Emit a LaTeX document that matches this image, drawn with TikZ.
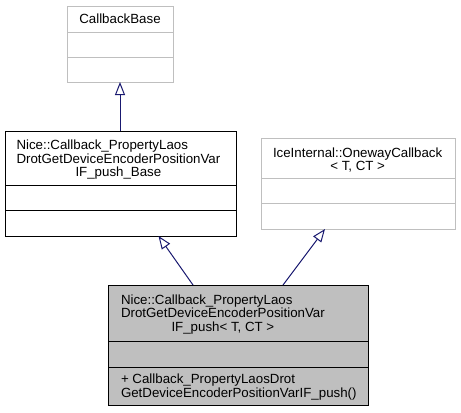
\documentclass[tikz,border=0pt]{standalone}
\usepackage{fontspec}
\setmainfont{Liberation Sans}
\usetikzlibrary{arrows.meta}
\definecolor{edgeblue}{HTML}{191970}
\definecolor{graybd}{HTML}{BFBFBF}
\definecolor{grayfill}{HTML}{BFBFBF}
\newcommand\dgfont{\fontsize{13.3bp}{13.3bp}\selectfont}
\begin{document}
\begin{tikzpicture}[x=1bp,y=1bp,
  comp/.style={draw, inner sep=0pt, outer sep=0pt, anchor=north west, line width=1bp},
  lightcomp/.style={comp, draw=graybd, fill=white},
  darkcomp/.style={comp, draw=black, fill=white},
  maincomp/.style={comp, draw=black, fill=grayfill},
  txt/.style={inner sep=0pt, outer sep=0pt, font=\dgfont},
  inh/.style={draw=edgeblue, line width=1bp, -{Triangle[open, length=13bp, width=10bp]}}]
\useasboundingbox[fill=white] (0,0) rectangle (461,-412);
% CallbackBase
\node[lightcomp, minimum width=106bp, minimum height=26bp] (cbT) at (67,-6) {};
\node[lightcomp, minimum width=106bp, minimum height=25bp] (cbA) at (67,-32) {};
\node[lightcomp, minimum width=106bp, minimum height=25bp] (cbM) at (67,-57) {};
\node[txt, anchor=base] (cbL) at (120,-23.5) {CallbackBase};
% Base
\node[darkcomp, minimum width=231bp, minimum height=54bp] (baseT) at (5,-131) {};
\node[darkcomp, minimum width=231bp, minimum height=25bp] (baseA) at (5,-185) {};
\node[darkcomp, minimum width=231bp, minimum height=26bp] (baseM) at (5,-210) {};
\node[txt, anchor=base west] (baseL) at (16.5,-149.5) {\begin{tabular}[t]{@{}l@{}}Nice::Callback\_PropertyLaos\\DrotGetDeviceEncoderPositionVar\\\multicolumn{1}{@{}c@{}}{IF\_push\_Base}\end{tabular}};
% OnewayCallback
\node[lightcomp, minimum width=194bp, minimum height=40bp] (owT) at (261,-138) {};
\node[lightcomp, minimum width=194bp, minimum height=25bp] (owA) at (261,-178) {};
\node[lightcomp, minimum width=194bp, minimum height=26bp] (owM) at (261,-203) {};
\node[txt, anchor=base west] (owL) at (273,-157) {\begin{tabular}[t]{@{}l@{}}IceInternal::OnewayCallback\\\multicolumn{1}{@{}c@{}}{< T, CT >}\end{tabular}};
% Main class
\node[maincomp, minimum width=260bp, minimum height=56bp] (mainT) at (108,-285) {};
\node[maincomp, minimum width=260bp, minimum height=26bp] (mainA) at (108,-341) {};
\node[maincomp, minimum width=260bp, minimum height=38bp] (mainM) at (108,-367) {};
\node[txt, anchor=base west] (mainL) at (121,-304) {\begin{tabular}[t]{@{}l@{}}Nice::Callback\_PropertyLaos\\DrotGetDeviceEncoderPositionVar\\\multicolumn{1}{@{}c@{}}{IF\_push< T, CT >}\end{tabular}};
\node[txt, anchor=base west] (mainOp) at (121,-383.5) {\begin{tabular}[t]{@{}l@{}}+ Callback\_PropertyLaosDrot\\GetDeviceEncoderPositionVarIF\_push()\end{tabular}};
% inheritance edges
\draw[inh] (cbM.south |- baseT.north) -- (cbM.south);
\draw[inh] ([xshift=-45bp]mainT.north) -- ([xshift=38bp]baseM.south);
\draw[inh] ([xshift=45bp]mainT.north) -- ([xshift=-33bp]owM.south);
\end{tikzpicture}
\end{document}
